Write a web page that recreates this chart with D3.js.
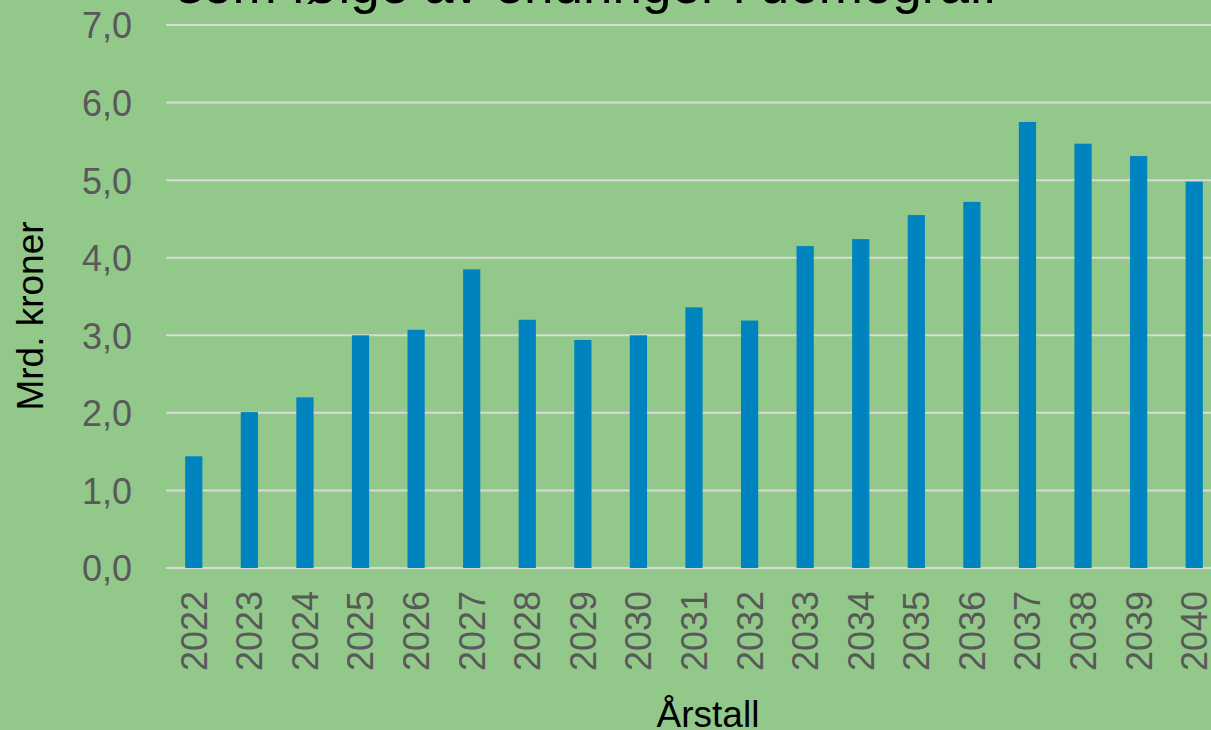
<!DOCTYPE html>
<html lang="no">
<head>
  <meta charset="UTF-8">
  <title>Mrd. kroner per år</title>
  <style>
    body { margin: 0; background: #92c98a; }
    svg { display: block; }
    text { font-family: 'Liberation Sans', Arial, sans-serif; }
    .axis text { fill: #595959; font-size: 36px; }
    .axis .domain, .axis line { display: none; }
    .grid line { stroke: #d9d9d9; stroke-width: 2; }
  </style>
</head>
<body>
  <div id="chart"></div>
  <script src="https://cdn.jsdelivr.net/npm/d3@7"></script>
  <script>
    // data
    const years = ['2022', '2023', '2024', '2025', '2026', '2027', '2028', '2029', '2030', '2031',
      '2032', '2033', '2034', '2035', '2036', '2037', '2038', '2039', '2040'];
    const values = [1.44, 2.01, 2.20, 3.00, 3.07, 3.85, 3.20, 2.94, 3.00, 3.36,
      3.19, 4.15, 4.24, 4.55, 4.72, 5.75, 5.47, 5.31, 4.98];
    const yTicks = [0, 1, 2, 3, 4, 5, 6, 7];

    const title = 'som følge av endringer i demografi';
    const xTitle = 'Årstall';
    const yTitle = 'Mrd. kroner';

    const width = 1211, height = 730;
    const plot = { left: 166, right: 1222, top: 25, bottom: 568 };

    const svg = d3.select('#chart').append('svg')
      .attr('width', width)
      .attr('height', height);

    const x = d3.scaleBand()
      .domain(years)
      .range([plot.left, plot.right])
      .paddingInner(0.69)
      .paddingOuter(0.345);

    const y = d3.scaleLinear()
      .domain([0, 7])
      .range([plot.bottom, plot.top]);

    const fmt = d3.formatLocale({ decimal: ',', thousands: ' ', grouping: [3], currency: ['', ' kr'] }).format('.1f');

    // gridlines
    svg.append('g')
      .attr('class', 'grid')
      .selectAll('line')
      .data(yTicks)
      .enter().append('line')
      .attr('x1', plot.left)
      .attr('x2', plot.right)
      .attr('y1', d => y(d))
      .attr('y2', d => y(d));

    // bars
    svg.selectAll('.bar')
      .data(values)
      .enter().append('rect')
      .attr('class', 'bar')
      .attr('x', (d, i) => x(years[i]))
      .attr('width', x.bandwidth())
      .attr('y', d => y(d))
      .attr('height', d => y(0) - y(d))
      .style('fill', '#0084bf');

    // y axis
    svg.append('g')
      .attr('class', 'axis')
      .attr('transform', `translate(${plot.left - 34}, 0)`)
      .call(d3.axisLeft(y).tickValues(yTicks).tickFormat(fmt).tickSize(0).tickPadding(0))
      .selectAll('text')
      .attr('dy', '0.36em');

    // x axis, rotated labels
    svg.append('g')
      .attr('class', 'axis')
      .attr('transform', `translate(0, ${plot.bottom})`)
      .call(d3.axisBottom(x).tickSize(0).tickPadding(0))
      .selectAll('text')
      .attr('transform', 'rotate(-90)')
      .attr('x', -23)
      .attr('y', 0)
      .attr('dy', '0.36em')
      .style('text-anchor', 'end');

    // axis titles
    svg.append('text')
      .attr('x', 708)
      .attr('y', 727)
      .style('text-anchor', 'middle')
      .style('font-size', '37px')
      .style('fill', '#000')
      .text(xTitle);

    svg.append('text')
      .attr('transform', 'translate(43, 316) rotate(-90)')
      .style('text-anchor', 'middle')
      .style('font-size', '37px')
      .style('fill', '#000')
      .text(yTitle);

    // chart title, mostly cut off at the top
    svg.append('text')
      .attr('x', 586)
      .attr('y', 3)
      .style('text-anchor', 'middle')
      .style('font-size', '53px')
      .style('fill', '#000')
      .text(title);
  </script>
</body>
</html>
